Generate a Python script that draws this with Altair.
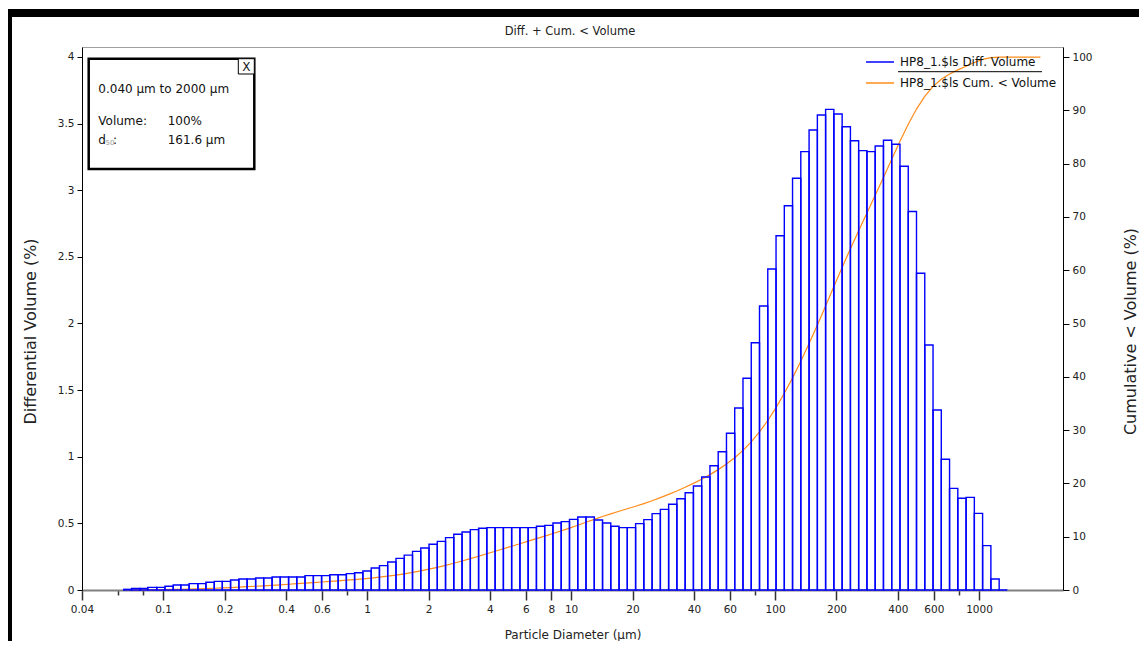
import json
import altair as alt
import pandas as pd

FONT = "DejaVu Sans"

# Instrument channel edges (µm), 0.04 .. 2000
EDGES_UM = [
    0.04, 0.044, 0.048, 0.053, 0.058, 0.064, 0.070, 0.077, 0.084, 0.093,
    0.102, 0.112, 0.122, 0.134, 0.148, 0.162, 0.178, 0.195, 0.214, 0.235,
    0.258, 0.284, 0.311, 0.342, 0.375, 0.412, 0.452, 0.496, 0.545, 0.598,
    0.656, 0.721, 0.791, 0.868, 0.953, 1.047, 1.149, 1.261, 1.385, 1.520,
    1.669, 1.832, 2.011, 2.208, 2.423, 2.660, 2.920, 3.206, 3.519, 3.862,
    4.241, 4.656, 5.111, 5.611, 6.158, 6.761, 7.421, 8.147, 8.944, 9.819,
    10.78, 11.83, 12.99, 14.26, 15.65, 17.18, 18.86, 20.71, 22.73, 24.95,
    27.39, 30.07, 33.01, 36.24, 39.78, 43.67, 47.94, 52.62, 57.77, 63.41,
    69.61, 76.42, 83.89, 92.09, 101.1, 111.0, 121.8, 133.7, 146.8, 161.2,
    176.9, 194.2, 213.2, 234.1, 256.9, 282.1, 309.6, 339.9, 373.1, 409.6,
    449.7, 493.6, 541.9, 594.9, 653.0, 716.8, 786.9, 863.9, 948.3, 1041,
    1143, 1255, 1377, 1512, 1660, 1822, 2000,
]
FIRST_EDGE = 5  # first drawn channel starts at 0.064 µm

# Differential volume (%) per channel, channels starting at 0.064 µm
DIFF_VOLUME = [
    0.005, 0.012, 0.012, 0.02, 0.02, 0.028, 0.038, 0.038, 0.048, 0.048,
    0.058, 0.065, 0.065, 0.075, 0.083, 0.083, 0.09, 0.09, 0.098, 0.098,
    0.098, 0.098, 0.108, 0.108, 0.108, 0.115, 0.115, 0.123, 0.13, 0.143,
    0.165, 0.183, 0.21, 0.237, 0.262, 0.29, 0.315, 0.343, 0.365, 0.393,
    0.418, 0.435, 0.453, 0.463, 0.468, 0.468, 0.468, 0.468, 0.468, 0.468,
    0.478, 0.485, 0.503, 0.513, 0.53, 0.548, 0.548, 0.525, 0.503, 0.478,
    0.468, 0.468, 0.498, 0.528, 0.573, 0.605, 0.643, 0.685, 0.73, 0.78,
    0.848, 0.933, 1.038, 1.176, 1.366, 1.589, 1.856, 2.131, 2.409, 2.659,
    2.884, 3.09, 3.29, 3.452, 3.565, 3.607, 3.572, 3.477, 3.372, 3.297,
    3.29, 3.332, 3.375, 3.345, 3.18, 2.84, 2.377, 1.839, 1.351, 0.981,
    0.763, 0.688, 0.695, 0.575, 0.333, 0.083, 0.0,
]

# Cumulative < volume (%) at channel edges from 0.064 µm up to 2000 µm
CUM_VOLUME = [
    0, 0.01, 0.02, 0.03, 0.05, 0.07, 0.10, 0.14, 0.17, 0.22,
    0.27, 0.33, 0.39, 0.46, 0.54, 0.62, 0.70, 0.79, 0.88, 0.98,
    1.08, 1.18, 1.28, 1.39, 1.50, 1.61, 1.72, 1.84, 1.96, 2.09,
    2.24, 2.40, 2.59, 2.80, 3.04, 3.30, 3.59, 3.91, 4.25, 4.62,
    5.02, 5.44, 5.88, 6.33, 6.80, 7.27, 7.74, 8.21, 8.68, 9.16,
    9.63, 10.11, 10.60, 11.10, 11.62, 12.15, 12.71, 13.26, 13.79, 14.29,
    14.77, 15.24, 15.72, 16.22, 16.75, 17.33, 17.94, 18.58, 19.27, 20.01,
    20.79, 21.65, 22.59, 23.63, 24.82, 26.19, 27.79, 29.66, 31.81, 34.23,
    36.91, 39.81, 42.93, 46.24, 49.72, 53.31, 56.94, 60.53, 64.04, 67.43,
    70.75, 74.06, 77.42, 80.82, 84.19, 87.39, 90.25, 92.64, 94.50, 95.86,
    96.84, 97.61, 98.30, 99.00, 99.58, 99.92, 100.0, 100.0, 100.0, 100.0,
    100.0, 100.0,
]

SERIES = ["HP8_1.$ls Diff. Volume", "HP8_1.$ls Cum. < Volume"]
X_TICKS = [0.04, 0.06, 0.08, 0.1, 0.2, 0.4, 0.6, 0.8, 1, 2, 4, 6, 8, 10,
           20, 40, 60, 80, 100, 200, 400, 600, 800, 1000]
X_MINOR = [0.06, 0.08, 0.8, 80, 800]
Y_DIFF_TICKS = [0, 0.5, 1, 1.5, 2, 2.5, 3, 3.5, 4]
Y_CUM_TICKS = [0, 10, 20, 30, 40, 50, 60, 70, 80, 90, 100]

TITLE = "Diff. + Cum. < Volume"
INFO_RANGE = "0.040 µm to 2000 µm"
INFO_VOLUME_LABEL = "Volume:"
INFO_VOLUME = "100%"
INFO_D50 = "161.6 µm"

n = len(DIFF_VOLUME)
bars = pd.DataFrame({
    "lo": EDGES_UM[FIRST_EDGE:FIRST_EDGE + n],
    "hi": EDGES_UM[FIRST_EDGE + 1:FIRST_EDGE + 1 + n],
    "diff": DIFF_VOLUME,
    "series": SERIES[0],
})
cum = pd.DataFrame({
    "size": EDGES_UM[FIRST_EDGE:FIRST_EDGE + len(CUM_VOLUME)],
    "cum": CUM_VOLUME,
    "series": SERIES[1],
})
dummy = pd.DataFrame({"k": [0]})

minor_test = "indexof(" + json.dumps(X_MINOR) + ", datum.value) >= 0"

x_scale = alt.Scale(type="log", domain=[0.04, 2580], nice=False)
x_axis = alt.Axis(
    values=X_TICKS,
    labelExpr=minor_test + " ? '' : format(datum.value, '~g')",
    labelOverlap=False, labelFlush=False,
    tickSize={"condition": {"test": minor_test, "value": 5}, "value": 10},
    tickColor="#333", tickWidth=1.5,
    domainColor="#808080", domainWidth=2,
    labelFontSize=10.5, labelPadding=4, labelColor="#222",
    title="Particle Diameter (µm)", titleFontSize=12, titleFontWeight="normal",
    titleColor="#222", titleX=490.5, titleY=44, titleBaseline="middle",
    grid=False,
)
y_diff_axis = alt.Axis(
    orient="left", values=Y_DIFF_TICKS, format="~g",
    tickSize=5, tickColor="black", domainColor="black",
    labelFontSize=10.5, labelPadding=3, labelColor="#222",
    title="Differential Volume (%)", titleFontSize=16, titleFontWeight="normal",
    titleColor="#222", titleAngle=270, titleX=-52, titleY=284,
    titleBaseline="middle", grid=False,
)
y_cum_axis = alt.Axis(
    orient="right", values=Y_CUM_TICKS, format="d",
    tickSize=6, tickColor="black", domainColor="black",
    labelFontSize=10.5, labelPadding=3, labelColor="#222",
    title="Cumulative < Volume (%)", titleFontSize=16, titleFontWeight="normal",
    titleColor="#222", titleAngle=270, titleX=67, titleY=284,
    titleBaseline="middle", grid=False,
)

stroke_enc = alt.Stroke(
    "series:N",
    scale=alt.Scale(domain=SERIES, range=["#0000ff", "#ff8c1a"]),
    legend=alt.Legend(
        title=None, orient="none", legendX=783, legendY=0,
        symbolType="stroke", symbolSize=784, symbolStrokeWidth=1.5,
        labelFont=FONT, labelFontSize=12, labelColor="#111",
        labelOffset=5, rowPadding=-7, padding=0,
    ),
)

line_layer = alt.Chart(cum).mark_line(strokeWidth=1.2).encode(
    x=alt.X("size:Q", scale=x_scale, axis=x_axis),
    y=alt.Y("cum:Q", scale=alt.Scale(domain=[0, 101.9], nice=False), axis=y_cum_axis),
    stroke=stroke_enc,
)

bars_layer = alt.Chart(bars).mark_rect(filled=False, strokeWidth=1.4).encode(
    x=alt.X("lo:Q", scale=x_scale, axis=x_axis),
    x2="hi:Q",
    y=alt.Y("diff:Q", scale=alt.Scale(domain=[0, 4.075], nice=False), axis=y_diff_axis),
    y2=alt.datum(0),
    stroke=stroke_enc,
)


def box(x, x2, y, y2, **kw):
    return alt.Chart(dummy).mark_rect(**kw).encode(
        x=alt.value(x), x2=alt.value(x2), y=alt.value(y), y2=alt.value(y2))


def label(s, x, y, size=12, color="#111", align="left"):
    return alt.Chart(dummy).mark_text(
        text=s, font=FONT, fontSize=size, color=color, align=align, baseline="middle"
    ).encode(x=alt.value(x), y=alt.value(y))


annots = [
    # window frame
    box(-74, 1057, -38, -30, color="black"),
    box(-74, -70, -38, 594, color="black"),
    # chart title
    label(TITLE, 488, -15, size=11.5, color="#222", align="center"),
    # info box
    box(6.7, 172.3, 11.7, 122, fill="white", stroke="black", strokeWidth=2.5),
    box(156.3, 172.3, 11.7, 27, fill="white", stroke="black", strokeWidth=1),
    label("X", 164.3, 19.5, size=12, color="#222", align="center"),
    label(INFO_RANGE, 16.3, 42.3),
    label(INFO_VOLUME_LABEL, 16.3, 73.7),
    label(INFO_VOLUME, 85.7, 73.7),
    label("d", 16.3, 93),
    label("50", 23.5, 95.5, size=7, color="#999"),
    label(":", 31, 93),
    label(INFO_D50, 85.7, 93),
    # legend separator
    alt.Chart(dummy).mark_rule(color="black", strokeWidth=1).encode(
        x=alt.value(816), x2=alt.value(960), y=alt.value(24.7)),
]

chart = (
    alt.layer(line_layer, bars_layer, *annots)
    .resolve_scale(y="independent")
    .properties(
        width=981, height=543,
        autosize=alt.AutoSizeParams(type="none"),
        padding={"left": 74, "top": 39, "right": 76, "bottom": 51},
        background="white",
    )
    .configure_view(stroke="#a0a0a0", strokeWidth=1)
    .configure_axis(labelFont=FONT, titleFont=FONT)
)

chart.save("out.html", embed_options={"renderer": "svg", "actions": False})
